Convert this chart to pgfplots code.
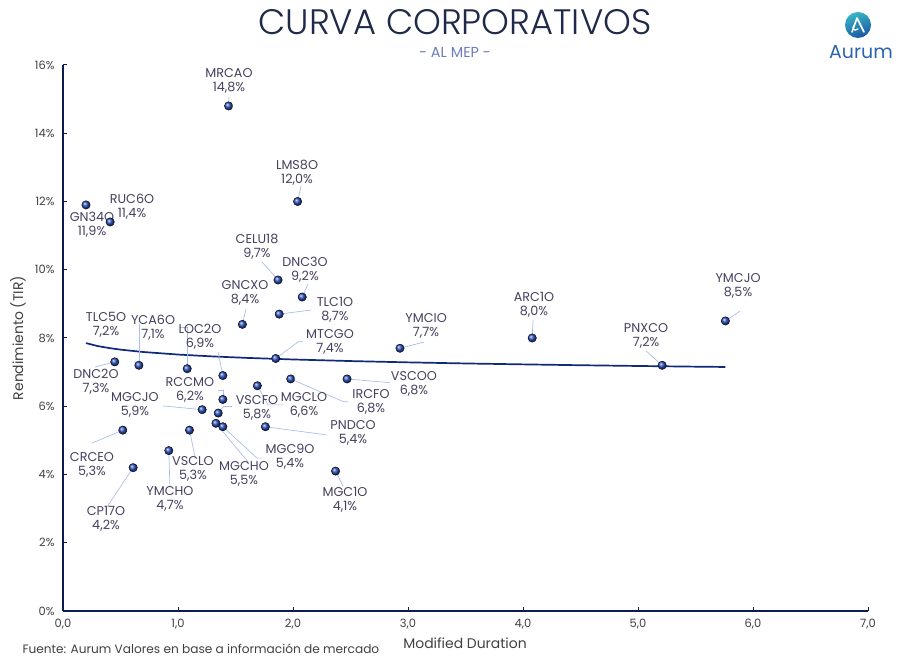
\documentclass[border=0pt]{standalone}
\usepackage{fontspec}
\setmainfont{Poppins}
\IfFontExistsTF{Poppins Light}
  {\newfontfamily\titlefont{Poppins Light}}
  {\newfontfamily\titlefont{Poppins}}
\usepackage{pgfplots}
\pgfplotsset{compat=1.18}
\usepackage{pgfplotstable}

\definecolor{navy}{HTML}{0B1F4F}
\definecolor{trend}{HTML}{0E2A78}
\definecolor{ballc}{HTML}{2A4FBE}
\definecolor{lead}{HTML}{A9BFEB}
\definecolor{labelc}{HTML}{463F5E}
\definecolor{tickc}{HTML}{404040}
\definecolor{titlec}{HTML}{1E2A48}
\definecolor{subc}{HTML}{6B7DBA}
\definecolor{logoa}{HTML}{38B6C6}
\definecolor{logob}{HTML}{1C57A4}
\definecolor{logot}{HTML}{2B64AF}

% corporate bonds: modified duration vs. yield (%)
\pgfplotstableread{
x    y
0.20 11.9
0.41 11.4
1.44 14.8
2.04 12.0
1.87 9.7
2.08 9.2
1.88 8.7
1.56 8.4
4.08 8.0
5.76 8.5
5.21 7.2
2.93 7.7
1.85 7.4
0.45 7.3
0.66 7.2
1.08 7.1
1.39 6.9
1.98 6.8
2.47 6.8
1.69 6.6
1.39 6.2
1.21 5.9
1.35 5.8
1.33 5.5
1.39 5.4
1.76 5.4
1.10 5.3
0.52 5.3
0.92 4.7
0.61 4.2
2.37 4.1
}\bonds

% logarithmic trend line
\pgfplotstableread{
x    y
0.20 7.850
0.30 7.765
0.40 7.706
0.50 7.659
0.70 7.589
1.00 7.515
1.30 7.460
1.60 7.417
2.00 7.371
2.50 7.324
3.00 7.286
3.50 7.254
4.00 7.227
4.50 7.202
5.00 7.180
5.50 7.160
5.76 7.151
}\trendline

\tikzset{
  lbl/.style={font=\fontsize{12.8}{14}\selectfont, text=labelc, align=center, inner sep=0pt},
  ldr/.style={draw=lead, line width=0.7bp},
}

\begin{document}
\begin{tikzpicture}
\useasboundingbox (0,0) rectangle (910bp,661bp);

\begin{axis}[
  at={(63bp,50bp)}, anchor=south west,
  scale only axis, width=805bp, height=546bp,
  xmin=0, xmax=7, ymin=0, ymax=16,
  axis x line*=bottom, axis y line*=left,
  axis line style={draw=navy, line width=1.6bp},
  xtick={0,1,...,7}, ytick={0,2,...,16},
  tick align=inside, major tick length=4bp,
  tick style={draw=navy, line width=1bp},
  /pgf/number format/assume math mode=true,
  xticklabel style={font=\fontsize{11.5}{13}\selectfont, text=tickc, yshift=-5bp,
    /pgf/number format/.cd, fixed, fixed zerofill, precision=1, use comma},
  yticklabel={\pgfmathprintnumber{\tick}\%},
  yticklabel style={font=\fontsize{11.5}{13}\selectfont, text=tickc, xshift=-5bp},
  xlabel={Modified Duration},
  ylabel={Rendimiento (TIR)},
  xlabel style={font=\fontsize{14}{16}\selectfont, text=tickc,
    at={(axis description cs:0.4994,-0.0586)}, anchor=center},
  ylabel style={font=\fontsize{14}{16}\selectfont, text=tickc,
    at={(axis description cs:-0.056,0.5)}, anchor=center, rotate=0},
  clip=false,
]

\addplot[trend, line width=1.7bp, no marks] table {\trendline};

% leader lines
\draw[ldr] (axis cs:1.443,15.06) -- (axis cs:1.44,14.8);
\draw[ldr] (axis cs:2.07,12.45) -- (axis cs:2.04,12.0);
\draw[ldr] (axis cs:1.730,10.23) -- (axis cs:1.87,9.7);
\draw[ldr] (axis cs:2.130,9.58) -- (axis cs:2.08,9.2);
\draw[ldr] (axis cs:1.591,8.85) -- (axis cs:1.56,8.4);
\draw[ldr] (axis cs:2.157,8.82) -- (axis cs:1.88,8.7);
\draw[ldr] (axis cs:3.139,7.88) -- (axis cs:2.93,7.7);
\draw[ldr] (axis cs:4.087,8.53) -- (axis cs:4.08,8.0);
\draw[ldr] (axis cs:5.887,8.79) -- (axis cs:5.76,8.5);
\draw[ldr] (axis cs:5.070,7.62) -- (axis cs:5.21,7.2);
\draw[ldr] (axis cs:2.087,7.89) -- (axis cs:2.046,7.89) -- (axis cs:1.85,7.4);
\draw[ldr] (axis cs:0.66,8.41) -- (axis cs:0.66,7.2);
\draw[ldr] (axis cs:1.017,8.32) -- (axis cs:1.08,8.32) -- (axis cs:1.08,7.1);
\draw[ldr] (axis cs:1.348,7.59) -- (axis cs:1.39,6.9);
\draw[ldr] (axis cs:0.278,7.15) -- (axis cs:0.45,7.3);
\draw[ldr] (axis cs:1.348,6.48) -- (axis cs:1.39,6.48) -- (axis cs:1.39,6.2);
\draw[ldr] (axis cs:0.870,6.01) -- (axis cs:1.21,5.9);
\draw[ldr] (axis cs:1.470,5.99) -- (axis cs:1.394,5.99) -- (axis cs:1.35,5.8);
\draw[ldr] (axis cs:1.69,6.6) -- (axis cs:1.783,6.04) -- (axis cs:1.913,6.04);
\draw[ldr] (axis cs:1.98,6.8) -- (axis cs:2.441,6.13) -- (axis cs:2.481,6.13);
\draw[ldr] (axis cs:2.47,6.8) -- (axis cs:2.843,6.69);
\draw[ldr] (axis cs:1.76,5.4) -- (axis cs:2.293,5.16);
\draw[ldr] (axis cs:1.39,5.4) -- (axis cs:1.687,4.48) -- (axis cs:1.730,4.48);
\draw[ldr] (axis cs:1.33,5.5) -- (axis cs:1.609,4.37);
\draw[ldr] (axis cs:1.10,5.3) -- (axis cs:1.150,4.48);
\draw[ldr] (axis cs:0.92,4.7) -- (axis cs:0.930,3.63);
\draw[ldr] (axis cs:0.252,4.92) -- (axis cs:0.52,5.3);
\draw[ldr] (axis cs:0.383,3.05) -- (axis cs:0.61,4.2);
\draw[ldr] (axis cs:2.37,4.1) -- (axis cs:2.435,3.66);

\addplot[only marks, mark=ball, mark size=4.2bp, mark options={ball color=ballc}]
  table {\bonds};

% point labels
\node[lbl] at (axis cs:1.443,15.53) {MRCAO\\14,8\%};
\node[lbl] at (axis cs:2.035,12.835) {LMS8O\\12,0\%};
\node[lbl] at (axis cs:0.252,11.31) {GN34O\\11,9\%};
\node[lbl] at (axis cs:0.600,11.84) {RUC6O\\11,4\%};
\node[lbl] at (axis cs:1.687,10.67) {CELU18\\9,7\%};
\node[lbl] at (axis cs:2.104,9.99) {DNC3O\\9,2\%};
\node[lbl] at (axis cs:1.583,9.32) {GNCXO\\8,4\%};
\node[lbl] at (axis cs:2.365,8.82) {TLC1O\\8,7\%};
\node[lbl] at (axis cs:3.157,8.35) {YMCIO\\7,7\%};
\node[lbl] at (axis cs:4.096,8.97) {ARC1O\\8,0\%};
\node[lbl] at (axis cs:5.870,9.52) {YMCJO\\8,5\%};
\node[lbl] at (axis cs:5.070,8.06) {PNXCO\\7,2\%};
\node[lbl] at (axis cs:2.322,7.88) {MTCGO\\7,4\%};
\node[lbl] at (axis cs:0.374,8.38) {TLC5O\\7,2\%};
\node[lbl] at (axis cs:0.783,8.29) {YCA6O\\7,1\%};
\node[lbl] at (axis cs:1.191,8.03) {LOC2O\\6,9\%};
\node[lbl] at (axis cs:0.287,6.71) {DNC2O\\7,3\%};
\node[lbl] at (axis cs:1.104,6.48) {RCCMO\\6,2\%};
\node[lbl] at (axis cs:0.626,6.04) {MGCJO\\5,9\%};
\node[lbl] at (axis cs:1.687,5.95) {VSCFO\\5,8\%};
\node[lbl] at (axis cs:2.096,6.04) {MGCLO\\6,6\%};
\node[lbl] at (axis cs:2.678,6.12) {IRCFO\\6,8\%};
\node[lbl] at (axis cs:3.052,6.65) {VSCOO\\6,8\%};
\node[lbl] at (axis cs:2.522,5.22) {PNDCO\\5,4\%};
\node[lbl] at (axis cs:1.974,4.51) {MGC9O\\5,4\%};
\node[lbl] at (axis cs:1.574,4.01) {MGCHO\\5,5\%};
\node[lbl] at (axis cs:1.130,4.16) {VSCLO\\5,3\%};
\node[lbl] at (axis cs:0.930,3.28) {YMCHO\\4,7\%};
\node[lbl] at (axis cs:0.252,4.28) {CRCEO\\5,3\%};
\node[lbl] at (axis cs:0.374,2.70) {CP17O\\4,2\%};
\node[lbl] at (axis cs:2.452,3.25) {MGC1O\\4,1\%};
\end{axis}

% titles
\node[font=\titlefont\fontsize{35.5}{40}\selectfont, text=titlec] at (455bp,639bp) {CURVA CORPORATIVOS};
\node[font=\fontsize{14.5}{16}\selectfont, text=subc] at (455bp,609bp) {- AL MEP -};

% source note
\node[font=\fontsize{12.2}{14}\selectfont, text=tickc, anchor=west] at (19bp,12bp)
  {Fuente: Aurum Valores en base a información de mercado};

% logo
\shade[top color=logoa, bottom color=logob, shading angle=20] (858bp,636bp) circle (13bp);
\draw[white, line width=1.6bp, line cap=round, line join=round]
  (852bp,629bp) -- (857bp,643bp) -- (864bp,629bp);
\draw[white, line width=1.3bp, line cap=round]
  (854.5bp,636bp) .. controls (851bp,633bp) and (854bp,629bp) .. (858bp,632bp);
\node[font=\fontsize{19}{21}\selectfont, text=logot] at (861bp,609bp) {Aurum};
\end{tikzpicture}
\end{document}
